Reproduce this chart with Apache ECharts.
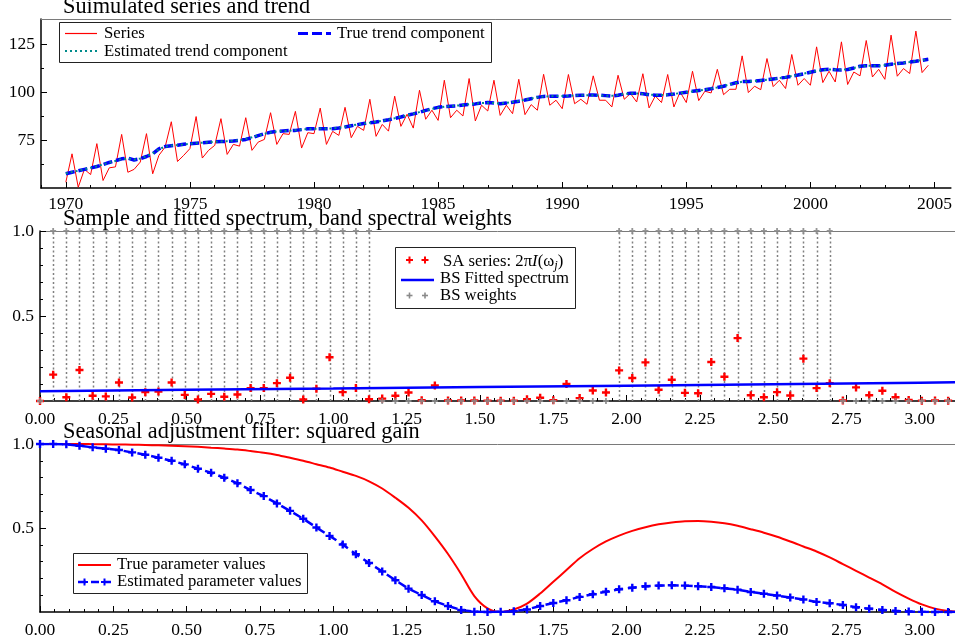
<!DOCTYPE html>
<html>
<head>
<meta charset="utf-8">
<script src="https://cdn.jsdelivr.net/npm/echarts@6/dist/echarts.min.js"></script>
<style>
  html, body { margin: 0; padding: 0; background: #ffffff; }
  #chart { width: 955px; height: 643px; }
</style>
</head>
<body>
<div id="chart"></div>
<script>
// ---- Panel 1: simulated quarterly series 1970Q1 - 2004Q4 and its trend ----
const firstYear = 1970;
const periodsPerYear = 4;
const simulatedSeries = [
  53.0, 67.8, 50.4, 59.7, 57.0, 73.1, 53.9, 60.5, 61.0, 77.9, 58.2, 59.7, 63.5, 78.3, 57.4, 67.0,
  71.3, 84.5, 63.8, 67.0, 70.5, 87.2, 65.6, 69.6, 72.2, 86.1, 67.5, 72.7, 71.8, 86.6, 69.6, 73.9,
  75.3, 89.2, 72.7, 78.3, 77.9, 89.9, 70.8, 78.8, 78.3, 91.6, 72.7, 79.5, 77.4, 92.0, 76.2, 82.1,
  80.0, 96.2, 76.9, 83.1, 79.6, 97.8, 82.1, 88.4, 81.2, 100.9, 85.8, 90.5, 85.2, 106.1, 86.6, 90.5,
  87.5, 107.0, 84.9, 93.1, 90.1, 106.1, 87.8, 93.1, 88.7, 106.6, 88.2, 93.4, 90.5, 109.2, 93.1, 95.7,
  91.3, 109.1, 93.9, 96.2, 93.6, 108.4, 95.7, 95.7, 92.2, 108.7, 96.2, 99.2, 94.8, 109.5, 91.7, 97.9,
  94.5, 109.1, 92.2, 100.0, 94.5, 110.8, 95.5, 100.4, 99.5, 111.8, 98.6, 101.4, 101.4, 118.8, 99.7, 103.0,
  101.2, 117.4, 102.8, 106.1, 101.8, 119.5, 103.5, 107.0, 103.5, 123.5, 104.9, 110.8, 105.2, 126.1, 103.9, 110.4,
  108.4, 126.8, 107.8, 111.8, 106.6, 129.6, 108.2, 112.2, 109.6, 131.7, 110.1, 113.9
];
const trueTrend = [
  57.4, 58.2, 59.0, 59.7, 60.4, 61.2, 62.2, 63.3, 64.2, 65.2, 65.6, 64.6, 65.2, 66.4, 67.8, 70.4,
  71.6, 72.0, 72.3, 72.8, 73.1, 73.3, 73.5, 73.8, 74.0, 74.2, 74.3, 74.5, 74.8, 75.3, 76.2, 77.3,
  78.3, 79.0, 79.5, 79.7, 79.9, 80.0, 80.4, 80.8, 80.9, 80.9, 80.9, 80.9, 81.2, 81.8, 82.4, 83.0,
  83.6, 84.0, 84.4, 84.9, 85.5, 86.2, 87.0, 87.9, 88.6, 89.4, 90.4, 91.3, 92.0, 92.4, 92.6, 92.8,
  93.2, 93.5, 93.8, 94.3, 94.5, 94.2, 93.9, 94.2, 94.7, 95.2, 95.8, 96.5, 97.2, 97.7, 97.8, 97.8,
  97.8, 97.9, 98.1, 98.3, 98.4, 98.4, 98.3, 98.1, 97.9, 98.3, 99.0, 99.3, 99.3, 99.1, 98.6, 98.3,
  98.3, 98.5, 98.9, 99.4, 99.9, 100.4, 100.8, 101.2, 101.7, 102.3, 103.0, 103.9, 104.8, 105.4, 105.5, 105.6,
  106.0, 106.4, 106.8, 107.2, 107.6, 108.2, 108.8, 109.5, 110.3, 111.0, 111.6, 111.8, 111.6, 111.5, 111.7, 112.5,
  113.4, 113.7, 113.6, 113.6, 113.9, 114.4, 114.8, 115.1, 115.6, 116.0, 116.5, 117.0
];
const estimatedTrend = [
  57.6, 58.3, 59.0, 59.8, 60.5, 61.3, 62.3, 63.2, 64.1, 65.0, 65.4, 64.8, 65.3, 66.5, 68.0, 70.2,
  71.5, 72.1, 72.4, 72.7, 73.0, 73.3, 73.6, 73.8, 74.1, 74.2, 74.4, 74.6, 74.9, 75.5, 76.4, 77.4,
  78.2, 78.9, 79.4, 79.7, 79.8, 80.1, 80.5, 80.7, 80.8, 81.0, 80.9, 81.0, 81.3, 81.9, 82.5, 83.1,
  83.5, 84.0, 84.5, 85.0, 85.6, 86.3, 87.1, 87.9, 88.7, 89.5, 90.3, 91.2, 91.8, 92.3, 92.6, 92.9,
  93.2, 93.6, 93.9, 94.2, 94.4, 94.2, 94.0, 94.3, 94.8, 95.3, 95.9, 96.6, 97.2, 97.6, 97.8, 97.9,
  97.9, 98.0, 98.2, 98.3, 98.3, 98.3, 98.2, 98.0, 98.0, 98.4, 99.0, 99.2, 99.2, 99.0, 98.7, 98.4,
  98.4, 98.6, 99.0, 99.4, 99.8, 100.3, 100.7, 101.2, 101.8, 102.4, 103.1, 103.9, 104.7, 105.3, 105.5, 105.7,
  106.0, 106.4, 106.8, 107.2, 107.7, 108.3, 108.9, 109.6, 110.3, 110.9, 111.4, 111.7, 111.6, 111.6, 111.8, 112.5,
  113.3, 113.6, 113.6, 113.7, 114.0, 114.4, 114.8, 115.2, 115.6, 116.1, 116.6, 117.1
];
const yearTicks = [1970, 1975, 1980, 1985, 1990, 1995, 2000, 2005];
const levelTicks = [75, 100, 125];
const levelMinorTicks = [62.5, 87.5, 112.5];

// ---- Panel 2: periodogram of the SA series at the Fourier frequencies ----
const sampleSize = 140;
const saPeriodogram = [
  0.000, 0.155, 0.022, 0.182, 0.031, 0.027, 0.109, 0.021, 0.052, 0.056,
  0.109, 0.036, 0.009, 0.042, 0.025, 0.038, 0.076, 0.076, 0.105, 0.137,
  0.009, 0.072, 0.257, 0.052, 0.076, 0.010, 0.014, 0.031, 0.050, 0.004,
  0.091, 0.003, 0.003, 0.003, 0.002, 0.002, 0.002, 0.010, 0.019, 0.005,
  0.100, 0.017, 0.062, 0.050, 0.180, 0.135, 0.227, 0.066, 0.125, 0.048,
  0.046, 0.229, 0.143, 0.370, 0.034, 0.022, 0.052, 0.032, 0.249, 0.076,
  0.105, 0.003, 0.080, 0.034, 0.060, 0.022, 0.006, 0.002, 0.003, 0.002,
  0.004
];
const bsWeights = [
  0, 1, 1, 1, 1, 1, 1, 1, 1, 1,
  1, 1, 1, 1, 1, 1, 1, 1, 1, 1,
  1, 1, 1, 1, 1, 1, 0, 0, 0, 0,
  0, 0, 0, 0, 0, 0, 0, 0, 0, 0,
  0, 0, 0, 0, 1, 1, 1, 1, 1, 1,
  1, 1, 1, 1, 1, 1, 1, 1, 1, 1,
  1, 0, 0, 0, 0, 0, 0, 0, 0, 0,
  0
];
const fittedFreq = [0, 0.5, 1.0, 1.5, 2.0, 2.5, 3.0, Math.PI];
const fittedSpectrum = [0.058, 0.066, 0.073, 0.082, 0.090, 0.099, 0.108, 0.110];

// ---- Panel 3: squared gain of the seasonal adjustment filter ----
const trueGain = [
  1.000, 1.000, 1.000, 1.000, 0.999, 0.998, 0.997, 0.996, 0.994, 0.992,
  0.990, 0.987, 0.983, 0.978, 0.973, 0.967, 0.958, 0.948, 0.935, 0.918,
  0.900, 0.880, 0.860, 0.835, 0.810, 0.778, 0.735, 0.680, 0.620, 0.545,
  0.450, 0.345, 0.225, 0.095, 0.022, 0.000, 0.015, 0.050, 0.110, 0.180,
  0.250, 0.320, 0.375, 0.420, 0.455, 0.483, 0.505, 0.522, 0.533, 0.540,
  0.541, 0.537, 0.528, 0.513, 0.493, 0.472, 0.448, 0.420, 0.390, 0.360,
  0.325, 0.285, 0.245, 0.205, 0.165, 0.120, 0.080, 0.045, 0.020, 0.006,
  0.000
];
const estimatedGain = [
  1.000, 1.000, 0.998, 0.990, 0.980, 0.972, 0.964, 0.950, 0.936, 0.918,
  0.900, 0.879, 0.853, 0.829, 0.799, 0.766, 0.726, 0.690, 0.646, 0.602,
  0.555, 0.503, 0.453, 0.402, 0.344, 0.292, 0.241, 0.189, 0.139, 0.101,
  0.064, 0.036, 0.012, 0.002, 0.000, 0.001, 0.005, 0.015, 0.036, 0.054,
  0.070, 0.090, 0.106, 0.121, 0.135, 0.145, 0.153, 0.157, 0.159, 0.157,
  0.153, 0.149, 0.141, 0.133, 0.119, 0.109, 0.098, 0.086, 0.074, 0.060,
  0.052, 0.042, 0.028, 0.020, 0.012, 0.006, 0.003, 0.001, 0.000, 0.000,
  0.000
];
const freqTicks = [0, 0.25, 0.5, 0.75, 1.0, 1.25, 1.5, 1.75, 2.0, 2.25, 2.5, 2.75, 3.0];
const unitTicks = [0.5, 1.0];
const unitMinorTicks = [0.1, 0.2, 0.3, 0.4, 0.6, 0.7, 0.8, 0.9];

// ---- derived grids ----
const quarters = simulatedSeries.map((_, k) => firstYear + k / periodsPerYear);
const omega = saPeriodogram.map((_, j) => 2 * Math.PI * j / sampleSize);
const yearMinorTicks = [];
for (let y = 1969; y <= 2005; y++) if (y % 5 !== 0) yearMinorTicks.push(y);
const freqMinorTicks = [];
for (let i = 1; i <= 62; i++) if (i % 5 !== 0) freqMinorTicks.push(+(i * 0.05).toFixed(2));

const FONT = 'Liberation Serif';
const LABEL_SIZE = 17.5;
const TITLE_SIZE = 22.3;
const KEY_SIZE = 16.7;
const PLUS = 'path://M3.5,0H6.5V3.5H10V6.5H6.5V10H3.5V6.5H0V3.5H3.5Z';
const ZTOP = 100;

function xAxes(gridIndex, min, max, major, minor, fmt, margin) {
  return [
    {
      type: 'value', gridIndex, position: 'bottom', min, max,
      axisLine: { show: true, onZero: false, lineStyle: { color: '#000', width: 1.5 } },
      axisTick: { show: true, inside: true, length: 6, customValues: major, lineStyle: { color: '#000', width: 1 } },
      axisLabel: { customValues: major, formatter: fmt, fontFamily: FONT, fontSize: LABEL_SIZE, color: '#000', margin },
      splitLine: { show: false }
    },
    {
      type: 'value', gridIndex, position: 'bottom', min, max,
      axisLine: { show: false, onZero: false },
      axisTick: { show: true, inside: true, length: 3, customValues: minor, lineStyle: { color: '#000', width: 1 } },
      axisLabel: { show: false },
      splitLine: { show: false }
    },
    {
      type: 'value', gridIndex, position: 'top', min, max,
      axisLine: { show: true, onZero: false, lineStyle: { color: '#7a7a7a', width: 1 } },
      axisTick: { show: false }, axisLabel: { show: false }, splitLine: { show: false }
    }
  ];
}
function yAxes(gridIndex, min, max, major, minor, fmt) {
  return [
    {
      type: 'value', gridIndex, position: 'left', min, max,
      axisLine: { show: true, onZero: false, lineStyle: { color: '#000', width: 1.5 } },
      axisTick: { show: true, inside: true, length: 6, customValues: major, lineStyle: { color: '#000', width: 1 } },
      axisLabel: { customValues: major, formatter: fmt, fontFamily: FONT, fontSize: LABEL_SIZE, color: '#000', margin: 6 },
      splitLine: { show: false }
    },
    {
      type: 'value', gridIndex, position: 'left', min, max,
      axisLine: { show: false, onZero: false },
      axisTick: { show: true, inside: true, length: 3, customValues: minor, lineStyle: { color: '#000', width: 1 } },
      axisLabel: { show: false },
      splitLine: { show: false }
    }
  ];
}

// legend key helpers
function plusKey(cx, cy, size, thick, color) {
  return [
    { type: 'rect', z: ZTOP + 2, shape: { x: cx - size / 2, y: cy - thick / 2, width: size, height: thick }, style: { fill: color } },
    { type: 'rect', z: ZTOP + 2, shape: { x: cx - thick / 2, y: cy - size / 2, width: thick, height: size }, style: { fill: color } }
  ];
}
function lineKey(x1, x2, y, color, width, dash) {
  return { type: 'line', z: ZTOP + 1, shape: { x1, y1: y, x2, y2: y }, style: { stroke: color, lineWidth: width, lineDash: dash || null } };
}
function label(x, y, text, size, extra) {
  return {
    type: 'text', z: ZTOP + 1, x, y,
    style: Object.assign({ text, fill: '#000', font: size + 'px "' + FONT + '"', verticalAlign: 'middle', align: 'left' }, extra || {})
  };
}
function box(x, y, w, h) {
  return { type: 'rect', z: ZTOP, shape: { x: x + 0.5, y: y + 0.5, width: w, height: h }, style: { fill: '#fff', stroke: '#222', lineWidth: 1 } };
}

const freqMax = 3.12;
const fmtYear = v => String(Math.round(v));
const fmt2 = v => v.toFixed(2);
const fmt1 = v => v.toFixed(1);

const option = {
  animation: false,
  backgroundColor: '#fff',
  grid: [
    { left: 41, top: 19, right: 0, height: 169 },
    { left: 40, top: 231, right: 0, height: 170 },
    { left: 40, top: 444, right: 0, height: 168 }
  ],
  xAxis: [
    ...xAxes(0, 1969, 2005.66, yearTicks, yearMinorTicks, fmtYear, 7),
    ...xAxes(1, 0, freqMax, freqTicks, freqMinorTicks, fmt2, 9),
    ...xAxes(2, 0, freqMax, freqTicks, freqMinorTicks, fmt2, 9)
  ],
  yAxis: [
    ...yAxes(0, 50, 138, levelTicks, levelMinorTicks, fmtYear),
    ...yAxes(1, 0, 1, unitTicks, unitMinorTicks, fmt1),
    ...yAxes(2, 0, 1, unitTicks, unitMinorTicks, fmt1)
  ],
  series: [
    {
      name: 'Series', type: 'line', xAxisIndex: 0, yAxisIndex: 0,
      data: quarters.map((t, k) => [t, simulatedSeries[k]]),
      showSymbol: false, lineStyle: { color: '#ff0000', width: 1 }, z: 2
    },
    {
      name: 'True trend component', type: 'line', xAxisIndex: 0, yAxisIndex: 0,
      data: quarters.map((t, k) => [t, trueTrend[k]]),
      showSymbol: false, lineStyle: { color: '#0000ff', width: 3.5, type: [9, 4] }, z: 3
    },
    {
      name: 'Estimated trend component', type: 'line', xAxisIndex: 0, yAxisIndex: 0,
      data: quarters.map((t, k) => [t, estimatedTrend[k]]),
      showSymbol: false, lineStyle: { color: '#008b8b', width: 2, type: [2, 3] }, z: 4
    },
    {
      name: 'BS weights lines', type: 'custom', xAxisIndex: 3, yAxisIndex: 2,
      data: omega.map((w, j) => [w, bsWeights[j]]),
      clip: true, silent: true, z: 2,
      renderItem(params, api) {
        const x = api.value(0), w = api.value(1);
        if (!w) return null;
        const p0 = api.coord([x, 0]);
        const p1 = api.coord([x, w]);
        return {
          type: 'line',
          shape: { x1: Math.round(p0[0]) + 0.5, y1: p0[1], x2: Math.round(p1[0]) + 0.5, y2: p1[1] },
          style: { stroke: '#808080', lineWidth: 1.5, lineDash: [2, 2.5] }
        };
      }
    },
    {
      name: 'SA series', type: 'scatter', xAxisIndex: 3, yAxisIndex: 2,
      data: omega.map((w, j) => [w, saPeriodogram[j]]),
      symbol: PLUS, symbolSize: 8, itemStyle: { color: '#ff0000', opacity: 1 }, clip: true, z: 3
    },
    {
      name: 'BS weights', type: 'scatter', xAxisIndex: 3, yAxisIndex: 2,
      data: omega.map((w, j) => [w, bsWeights[j]]),
      symbol: PLUS, symbolSize: 6, itemStyle: { color: '#8a8a8a', opacity: 0.9 }, clip: true, z: 4
    },
    {
      name: 'BS Fitted spectrum', type: 'line', xAxisIndex: 3, yAxisIndex: 2,
      data: fittedFreq.map((f, i) => [f, fittedSpectrum[i]]),
      showSymbol: false, lineStyle: { color: '#0000ff', width: 2.5 }, z: 5
    },
    {
      name: 'True parameter values', type: 'line', xAxisIndex: 6, yAxisIndex: 4,
      data: omega.map((w, j) => [w, trueGain[j]]),
      showSymbol: false, smooth: 0.3, lineStyle: { color: '#ff0000', width: 2 }, z: 3
    },
    {
      name: 'Estimated parameter values', type: 'line', xAxisIndex: 6, yAxisIndex: 4,
      data: omega.map((w, j) => [w, estimatedGain[j]]),
      showSymbol: true, showAllSymbol: true, symbol: PLUS, symbolSize: 8,
      itemStyle: { color: '#0000ff' },
      lineStyle: { color: '#0000ff', width: 2.5, type: [9, 5] }, z: 4
    }
  ],
  graphic: [
    // panel titles
    label(63, 7.5, 'Suimulated series and trend', TITLE_SIZE),
    label(63, 219.5, 'Sample and fitted spectrum, band spectral weights', TITLE_SIZE),
    label(63, 432.5, 'Seasonal adjustment filter: squared gain', TITLE_SIZE),

    // legend: panel 1
    box(59, 22, 432, 40),
    lineKey(65, 97, 33.5, '#ff0000', 1.2),
    label(104, 34, 'Series', KEY_SIZE),
    lineKey(298, 331, 33.5, '#0000ff', 3, [10, 4]),
    label(337, 34, 'True trend component', KEY_SIZE),
    lineKey(65, 97, 51, '#008b8b', 2, [2, 3]),
    label(104, 51.5, 'Estimated trend component', KEY_SIZE),

    // legend: panel 2
    box(395, 247, 180, 61),
    ...plusKey(409.5, 260, 7, 2, '#ff0000'),
    ...plusKey(425, 260, 7, 2, '#ff0000'),
    label(443, 261.5, 'SA series: 2π{i|I}(ω{s|j})', KEY_SIZE, {
      rich: {
        i: { fontFamily: FONT, fontSize: KEY_SIZE, fontStyle: 'italic', fill: '#000' },
        s: { fontFamily: FONT, fontSize: 12.5, fontStyle: 'italic', fill: '#000', verticalAlign: 'bottom', padding: [8, 0, 0, 0] }
      }
    }),
    lineKey(401, 434, 280, '#0000ff', 2.5),
    label(440, 279, 'BS Fitted spectrum', KEY_SIZE),
    ...plusKey(409.5, 295.5, 6, 1.6, '#8a8a8a'),
    ...plusKey(425, 295.5, 6, 1.6, '#8a8a8a'),
    label(440, 296, 'BS weights', KEY_SIZE),

    // legend: panel 3
    box(73, 553, 234, 40),
    lineKey(78, 111, 565, '#ff0000', 2),
    label(117, 565, 'True parameter values', KEY_SIZE),
    lineKey(78, 111, 582, '#0000ff', 2.5, [8, 5]),
    ...plusKey(84.5, 582, 7, 2, '#0000ff'),
    ...plusKey(104.5, 582, 7, 2, '#0000ff'),
    label(117, 581.5, 'Estimated parameter values', KEY_SIZE)
  ]
};

const chart = echarts.init(document.getElementById('chart'), null, { renderer: 'canvas' });
chart.setOption(option);
</script>
</body>
</html>
